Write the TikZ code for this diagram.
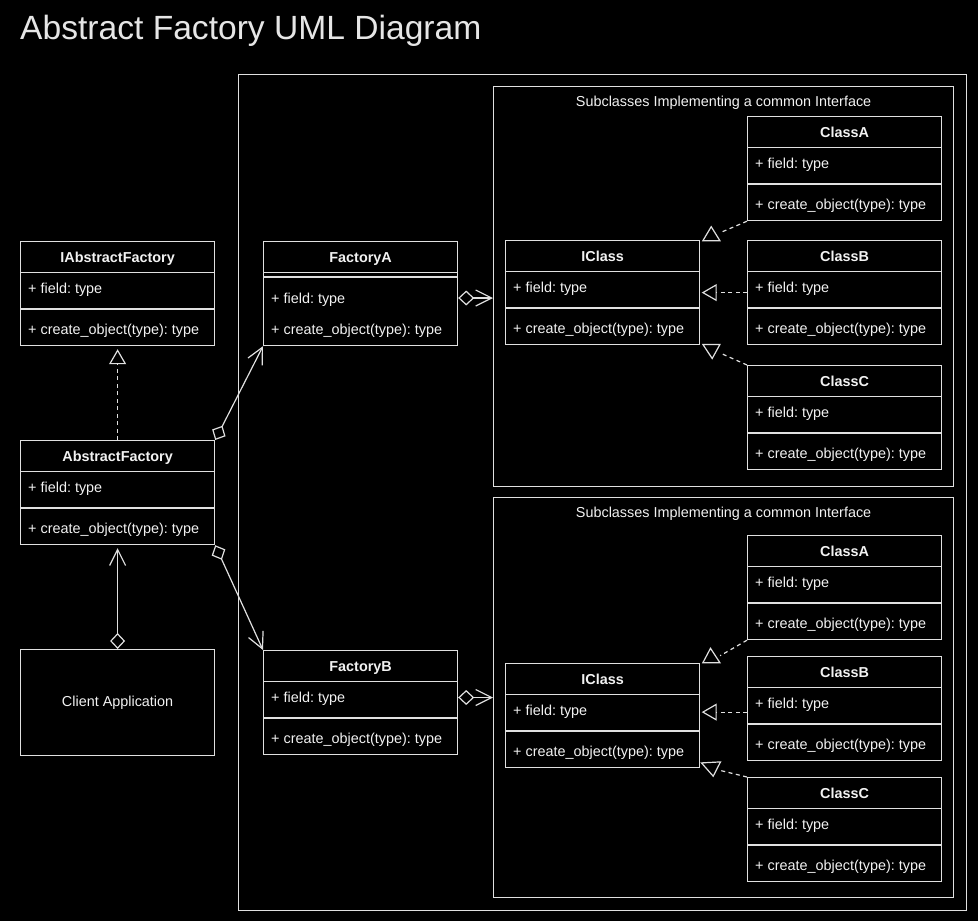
\documentclass[tikz,border=0pt]{standalone}
\usepackage{fontspec}
\setmainfont{Liberation Sans}
\usetikzlibrary{arrows.meta,calc}
\definecolor{lc}{HTML}{E0E0E0}
\definecolor{tc}{HTML}{F2F2F2}
\definecolor{ttl}{HTML}{E6E6E6}
\tikzset{
  ln/.style={draw=lc, line width=1.2pt},
  box/.style={draw=lc, line width=1.2pt, fill=black, minimum width=194pt, minimum height=104pt, inner sep=0pt, anchor=north west},
  grp/.style={draw=lc, line width=1.2pt, inner sep=0pt, anchor=north west},
  hdr/.style={text=tc, font=\fontsize{14.4}{17}\selectfont\bfseries, anchor=base, inner sep=0pt},
  txt/.style={text=tc, font=\fontsize{14.4}{17}\selectfont, anchor=base west, inner sep=0pt},
  dsh/.style={dash pattern=on 4pt off 3.5pt},
  impl/.style={ln, dsh, -{Triangle[open, length=15pt, width=17pt]}},
  agg/.style={ln, {Diamond[open, length=16pt, width=15pt]}-{Straight Barb[length=16pt, width=16pt]}},
  tri/.style={ln, line join=miter, fill=black},
}
\newcommand{\umlcls}[4]{%
  \node[box] (#1) at (#2,#3) {};
  \node[hdr] at ($(#1.north)+(0,21.7)$) {#4};
  \draw[ln] ($(#1.north west)+(0,31.5)$) -- ($(#1.north east)+(0,31.5)$);
  \draw[ln] ($(#1.north west)+(0,68)$) -- ($(#1.north east)+(0,68)$);
  \node[txt] at ($(#1.north west)+(8,52.5)$) {+ field: type};
  \node[txt] at ($(#1.north west)+(8,93)$) {+ create\_object(type): type};
}
\begin{document}
\frenchspacing
\begin{tikzpicture}[x=1pt,y=-1pt]
\fill[black] (0,0) rectangle (978,921);
\useasboundingbox (0,0) rectangle (978,921);

\node[anchor=base west, text=ttl, font=\fontsize{33.6}{40}\selectfont, inner sep=0pt] (title) at (20,39) {Abstract Factory UML Diagram};

% containers
\node[grp, minimum width=728pt, minimum height=836pt] (outer) at (238,74) {};
\node[grp, minimum width=460pt, minimum height=400pt] (G1) at (493,86) {};
\node[grp, minimum width=460pt, minimum height=400pt] (G2) at (493,497) {};
\node[txt, anchor=base] (g1lab) at ($(G1.north)+(0,20.5)$) {Subclasses Implementing a common Interface};
\node[txt, anchor=base] (g2lab) at ($(G2.north)+(0,20.5)$) {Subclasses Implementing a common Interface};

% left column
\umlcls{IAF}{20}{241}{IAbstractFactory}
\umlcls{AF}{20}{440}{AbstractFactory}
\node[box, minimum height=106pt] (CL) at (20,649) {};
\node[txt, anchor=center] at (CL.center) {Client Application};

% factories
\node[box] (FA) at (263,241) {};
\node[hdr] at ($(FA.north)+(0,21.7)$) {FactoryA};
\draw[ln] ($(FA.north west)+(0,31.5)$) -- ($(FA.north east)+(0,31.5)$);
\draw[ln] ($(FA.north west)+(0,36)$) -- ($(FA.north east)+(0,36)$);
\node[txt] at ($(FA.north west)+(8,62)$) {+ field: type};
\node[txt] at ($(FA.north west)+(8,93)$) {+ create\_object(type): type};

\umlcls{FB}{263}{650}{FactoryB}

% interfaces
\umlcls{IC1}{505}{240}{IClass}
\umlcls{IC2}{505}{663}{IClass}

% subclasses
\umlcls{CA1}{747}{116}{ClassA}
\umlcls{CB1}{747}{240}{ClassB}
\umlcls{CC1}{747}{365}{ClassC}
\umlcls{CA2}{747}{535}{ClassA}
\umlcls{CB2}{747}{656}{ClassB}
\umlcls{CC2}{747}{777}{ClassC}

% connectors, left part
\draw[impl, shorten >=3pt] (AF.north) -- (IAF.south);
\draw[agg] (AF.north east) -- (FA.south west);
\draw[agg] (AF.south east) -- (FB.north west);
\draw[agg, shorten >=3pt] (CL.north) -- (AF.south);

% factories to groups
\coordinate (fa1) at ($(FA.north east)+(0,57)$);
\draw[agg] (fa1) -- (fa1 -| G1.west);
\coordinate (fb1) at ($(FB.north east)+(0,47.5)$);
\draw[agg] (fb1) -- (fb1 -| G2.west);

% subclasses to interfaces, top group
\draw[impl, shorten >=1.5pt] (CB1.west) -- (IC1.east);
\draw[ln, dsh] (CA1.south west) -- ($(IC1.north east)+(20,-7.3)$);
\draw[tri] ($(IC1.north east)+(2.7,0.7)$) -- ($(IC1.north east)+(19.7,0.7)$) -- ($(IC1.north east)+(11,-13.3)$) -- cycle;
\draw[ln, dsh] (CC1.north west) -- ($(IC1.south east)+(19.7,7.7)$);
\draw[tri] ($(IC1.south east)+(2.7,-0.7)$) -- ($(IC1.south east)+(19.7,-0.7)$) -- ($(IC1.south east)+(12,13.3)$) -- cycle;

% subclasses to interfaces, bottom group
\coordinate (cb2) at ($(CB2.west)!0.5!(IC2.east)$);
\draw[impl, shorten >=1.5pt] (CB2.west |- cb2) -- (IC2.east |- cb2);
\draw[ln, dsh] (CA2.south west) -- ($(IC2.north east)+(20,-7.3)$);
\draw[tri] ($(IC2.north east)+(2.7,-0.3)$) -- ($(IC2.north east)+(19.7,-0.3)$) -- ($(IC2.north east)+(10.3,-14.7)$) -- cycle;
\draw[ln, dsh] (CC2.north west) -- ($(IC2.south east)+(20.3,2.3)$);
\draw[tri] ($(IC2.south east)+(1.3,-5.3)$) -- ($(IC2.south east)+(20.3,-6.3)$) -- ($(IC2.south east)+(13,8)$) -- cycle;
\end{tikzpicture}
\end{document}
